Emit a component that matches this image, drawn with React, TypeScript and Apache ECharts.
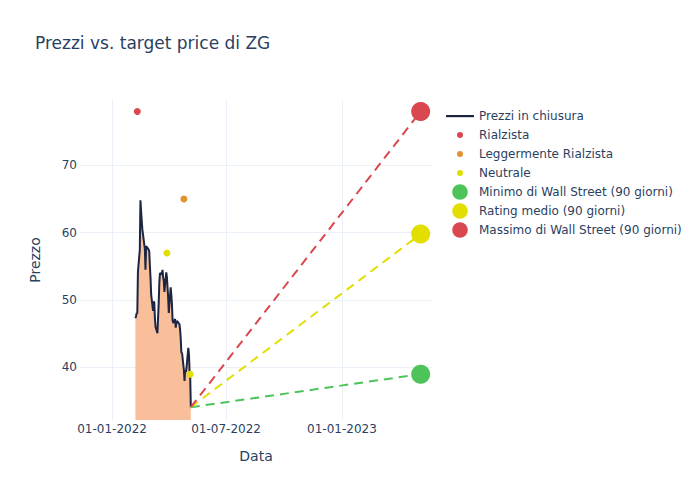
import React, { useEffect, useRef } from "react";
import * as echarts from "echarts";

const dates: string[] = [
  "2022-02-07", "2022-02-08", "2022-02-09", "2022-02-10", "2022-02-11",
  "2022-02-14", "2022-02-15", "2022-02-16", "2022-02-17", "2022-02-18",
  "2022-02-22", "2022-02-23", "2022-02-24", "2022-02-25",
  "2022-02-28", "2022-03-01", "2022-03-02", "2022-03-03", "2022-03-04",
  "2022-03-07", "2022-03-08", "2022-03-09", "2022-03-10", "2022-03-11",
  "2022-03-14", "2022-03-15", "2022-03-16", "2022-03-17", "2022-03-18",
  "2022-03-21", "2022-03-22", "2022-03-23", "2022-03-24", "2022-03-25",
  "2022-03-28", "2022-03-29", "2022-03-30", "2022-03-31", "2022-04-01",
  "2022-04-04", "2022-04-05", "2022-04-06", "2022-04-07", "2022-04-08",
  "2022-04-11", "2022-04-12", "2022-04-13", "2022-04-14",
  "2022-04-18", "2022-04-19", "2022-04-20", "2022-04-21", "2022-04-22",
  "2022-04-25", "2022-04-26", "2022-04-27", "2022-04-28", "2022-04-29",
  "2022-05-02", "2022-05-03", "2022-05-04", "2022-05-05", "2022-05-06",
];

const prices: number[] = [
  47.3, 47.6, 48.1, 48.0, 54.2,
  57.5, 64.8, 63.2, 61.8, 60.5,
  57.6, 54.5, 58.0, 57.9,
  57.5, 57.2, 55.0, 53.3, 50.8,
  48.4, 49.8, 49.6, 47.2, 46.0,
  45.1, 47.4, 49.6, 52.6, 54.0,
  53.8, 54.5, 53.4, 52.9, 51.2,
  54.1, 53.4, 51.9, 50.4, 48.1,
  51.9, 50.8, 49.4, 47.0, 46.6,
  47.2, 45.9, 46.6, 46.9,
  46.4, 45.6, 44.2, 42.1, 42.2,
  39.6, 38.0, 39.6, 39.3, 39.8,
  42.9, 42.0, 39.5, 38.6, 34.1,
];

const rialzista: [string, number][] = [["2022-02-10", 78]];
const leggermenteRialzista: [string, number][] = [["2022-04-25", 65]];
const neutrale: [string, number][] = [["2022-03-29", 57], ["2022-05-05", 39]];

const targetDate = "2023-05-06";
const targetMin = 39.0;
const targetMean = 59.8;
const targetMax = 78.0;

const xRange: [string, string] = ["2021-11-11", "2023-05-24"];
const xTicks: string[] = ["2022-01-01", "2022-07-01", "2023-01-01"];
const yTicks: number[] = [40, 50, 60, 70];

const FONT = "DejaVu Sans";
const TXT = "#2a3f5f";
const GRID = "#ebf0f8";

const C_LINE = "#1c2541";
const C_FILL = "#f9bf9b";
const C_RED = "#d9474f";
const C_ORANGE = "#df9430";
const C_YELLOW = "#e2df00";
const C_GREEN = "#4cc45a";

const ICON_LINE = "path://M0 0 M28 16 M0 7 L28 7 L28 9.2 L0 9.2 Z";
const ICON_SMALL = "path://M0 0 M28 16 M11 8 A3 3 0 1 0 17 8 A3 3 0 1 0 11 8 Z";
const ICON_BIG = "path://M0 0 M28 16 M6.2 8 A7.8 7.8 0 1 0 21.8 8 A7.8 7.8 0 1 0 6.2 8 Z";

const ts = (s: string) => new Date(s + "T00:00:00Z").getTime();

function fmt(v: number): string {
  const d = new Date(v);
  const dd = String(d.getUTCDate()).padStart(2, "0");
  const mm = String(d.getUTCMonth() + 1).padStart(2, "0");
  return `${dd}-${mm}-${d.getUTCFullYear()}`;
}

export default function App() {
  const ref = useRef<HTMLDivElement>(null);
  useEffect(() => {
    if (!ref.current) return;
    const chart = echarts.init(ref.current, null, { renderer: "svg" });
    const lastDate = ts(dates[dates.length - 1]);
    const lastPrice = prices[prices.length - 1];
    const xTickVals = xTicks.map(ts);
    const targetSeries = (name: string, color: string, value: number) => ({
      name,
      type: "line",
      color,
      data: [
        { value: [lastDate, lastPrice], symbol: "none" },
        { value: [ts(targetDate), value], symbol: "circle", symbolSize: 19 },
      ],
      lineStyle: { color, width: 2, type: [9, 6] },
      itemStyle: { color, opacity: 1 },
      z: 5,
    });
    const pts = (arr: [string, number][]) => arr.map(([d, v]) => [ts(d), v]);
    const scatter = (name: string, color: string, data: [string, number][]) => ({
      name,
      type: "scatter",
      color,
      symbolSize: 7,
      itemStyle: { color, opacity: 1 },
      data: pts(data),
      z: 3,
    });
    chart.setOption({
      animation: false,
      textStyle: { fontFamily: FONT },
      title: {
        text: "Prezzi vs. target price di ZG",
        left: 35,
        top: 34,
        padding: 0,
        textStyle: { fontSize: 17, fontWeight: "normal", color: TXT, fontFamily: FONT },
      },
      grid: { left: 80, right: 268, top: 100, bottom: 80 },
      legend: {
        orient: "vertical",
        left: 446,
        top: 108,
        padding: 0,
        itemWidth: 28,
        itemHeight: 16,
        itemGap: 3,
        textStyle: { fontSize: 12, color: TXT, fontFamily: FONT },
        itemStyle: { borderWidth: 0, opacity: 1 },
        data: [
          { name: "Prezzi in chiusura", icon: ICON_LINE },
          { name: "Rialzista", icon: ICON_SMALL },
          { name: "Leggermente Rialzista", icon: ICON_SMALL },
          { name: "Neutrale", icon: ICON_SMALL },
          { name: "Minimo di Wall Street (90 giorni)", icon: ICON_BIG },
          { name: "Rating medio (90 giorni)", icon: ICON_BIG },
          { name: "Massimo di Wall Street (90 giorni)", icon: ICON_BIG },
        ],
      },
      xAxis: {
        type: "value",
        min: ts(xRange[0]),
        max: ts(xRange[1]),
        name: "Data",
        nameLocation: "middle",
        nameGap: 29,
        nameTextStyle: { fontSize: 14, color: TXT, fontFamily: FONT },
        axisLine: { show: false },
        axisTick: { show: false, customValues: xTickVals },
        splitLine: { show: true, lineStyle: { color: GRID, width: 1 }, customValues: xTickVals },
        axisLabel: {
          customValues: xTickVals,
          formatter: (v: number) => fmt(v),
          fontSize: 12,
          color: TXT,
          fontFamily: FONT,
          margin: 3,
          showMinLabel: true,
          showMaxLabel: true,
        },
      },
      yAxis: {
        type: "value",
        min: 32.2,
        max: 79.7,
        name: "Prezzo",
        nameLocation: "middle",
        nameGap: 38,
        nameTextStyle: { fontSize: 14, color: TXT, fontFamily: FONT },
        axisLine: { show: false },
        axisTick: { show: false, customValues: yTicks },
        splitLine: { show: true, lineStyle: { color: GRID, width: 1 }, customValues: yTicks },
        axisLabel: {
          customValues: yTicks,
          fontSize: 12,
          color: TXT,
          fontFamily: FONT,
          margin: 3,
        },
      },
      series: [
        {
          name: "Prezzi in chiusura",
          type: "line",
          color: C_LINE,
          data: dates.map((d, i) => [ts(d), prices[i]]),
          showSymbol: false,
          symbol: "none",
          lineStyle: { color: C_LINE, width: 2 },
          areaStyle: { color: C_FILL, opacity: 1, origin: "start" },
          z: 2,
        },
        scatter("Rialzista", C_RED, rialzista),
        scatter("Leggermente Rialzista", C_ORANGE, leggermenteRialzista),
        scatter("Neutrale", C_YELLOW, neutrale),
        targetSeries("Minimo di Wall Street (90 giorni)", C_GREEN, targetMin),
        targetSeries("Rating medio (90 giorni)", C_YELLOW, targetMean),
        targetSeries("Massimo di Wall Street (90 giorni)", C_RED, targetMax),
      ],
    });
    return () => chart.dispose();
  }, []);
  return (
    <div
      ref={ref}
      style={{ position: "fixed", left: 0, top: 0, width: 700, height: 500, background: "#fff" }}
    />
  );
}
